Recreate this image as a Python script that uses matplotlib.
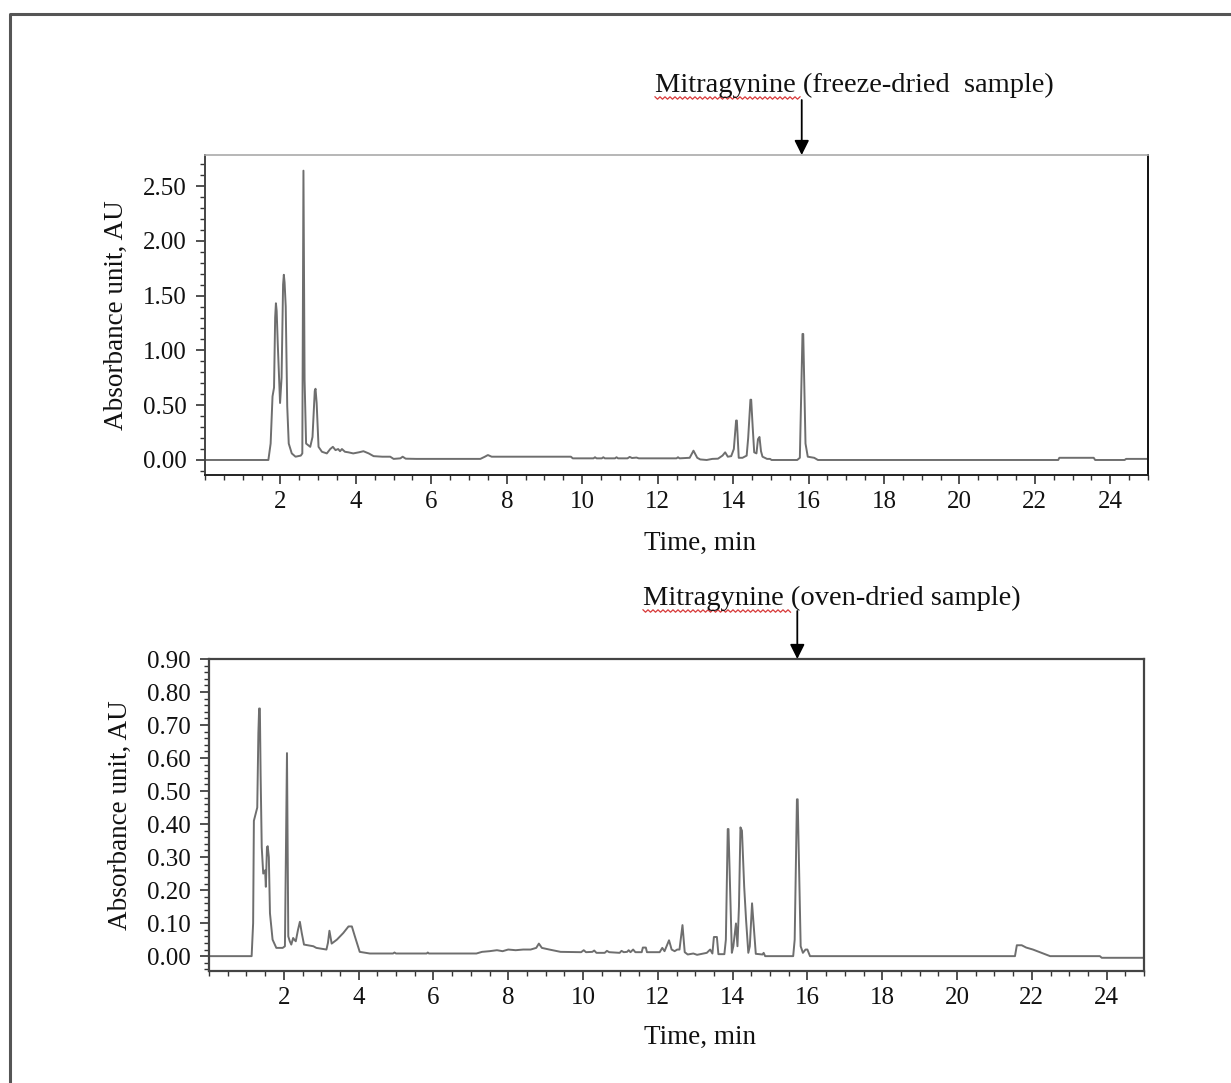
import numpy as np
import matplotlib
matplotlib.use("Agg")
import matplotlib.pyplot as plt
from matplotlib.ticker import MultipleLocator, FormatStrFormatter
from matplotlib.lines import Line2D

plt.rcParams['font.family'] = ['Liberation Serif', 'DejaVu Serif']

# ---------------- data ----------------
freeze_t = [0.0, 1.68, 1.74, 1.79, 1.83, 1.86, 1.88, 1.90, 1.93, 1.99, 2.03, 2.07, 2.09, 2.11,
            2.14, 2.18, 2.22, 2.30,
            2.40, 2.54, 2.58, 2.61, 2.64, 2.68, 2.79, 2.85, 2.91, 2.93, 2.96, 3.01, 3.10, 3.23, 3.32,
            3.39, 3.46, 3.53, 3.58, 3.63, 3.71, 3.80, 3.93, 4.08, 4.20, 4.34, 4.47, 4.70, 4.91,
            5.00, 5.18, 5.24, 5.32, 5.60, 7.30, 7.42, 7.50, 7.60, 9.70, 9.75, 10.30, 10.34, 10.38,
            10.52, 10.56, 10.60, 10.87, 10.91, 10.95, 11.20, 11.26, 11.32, 11.44, 11.50, 12.50,
            12.54, 12.58, 12.85, 12.95, 13.05, 13.13, 13.30, 13.45, 13.60, 13.72, 13.79, 13.86,
            13.95, 14.02, 14.08, 14.10, 14.15, 14.25, 14.36, 14.40, 14.46, 14.48, 14.52, 14.56,
            14.62, 14.66, 14.70, 14.74, 14.78, 14.90, 14.98, 15.02, 15.70, 15.77, 15.84, 15.86,
            15.92, 15.98, 16.15, 16.25, 22.62, 22.65, 23.56, 23.60, 24.38, 24.42, 25.0]
freeze_au = [0.0, 0.0, 0.15, 0.58, 0.66, 1.30, 1.43, 1.36, 1.05, 0.52, 0.75, 1.60, 1.69, 1.62,
             1.40, 0.49, 0.15, 0.06,
             0.03, 0.04, 0.06, 2.64, 0.73, 0.15, 0.12, 0.21, 0.63, 0.65, 0.52, 0.12, 0.075, 0.06, 0.10,
             0.12, 0.09, 0.10, 0.08, 0.10, 0.075, 0.07, 0.06, 0.07, 0.08, 0.06, 0.035, 0.03, 0.03,
             0.01, 0.015, 0.03, 0.012, 0.01, 0.01, 0.03, 0.045, 0.03, 0.03, 0.015, 0.015, 0.025, 0.015,
             0.015, 0.025, 0.015, 0.015, 0.025, 0.015, 0.015, 0.028, 0.018, 0.022, 0.015, 0.015,
             0.025, 0.015, 0.02, 0.085, 0.02, 0.005, 0.0, 0.01, 0.012, 0.04, 0.07, 0.03,
             0.035, 0.10, 0.36, 0.36, 0.02, 0.02, 0.04, 0.20, 0.55, 0.55, 0.30, 0.07,
             0.06, 0.19, 0.21, 0.08, 0.03, 0.01, 0.01, 0.0, 0.0, 0.02, 1.15, 1.15,
             0.15, 0.03, 0.02, 0.0, 0.0, 0.02, 0.02, 0.0, 0.0, 0.01, 0.01]

oven_t = [0.0, 1.14, 1.18, 1.20, 1.29, 1.32, 1.34, 1.36, 1.38, 1.41, 1.45, 1.50, 1.52, 1.55, 1.57,
          1.60, 1.63, 1.70, 1.80, 1.97, 2.03, 2.085, 2.12, 2.16, 2.20, 2.25, 2.28, 2.32, 2.38,
          2.43, 2.48, 2.54, 2.79, 2.87, 3.14, 3.18, 3.22, 3.28, 3.42, 3.59, 3.73, 3.82, 3.90,
          4.03, 4.30, 4.92, 4.96, 5.00, 5.82, 5.85, 5.88, 7.15, 7.30, 7.50, 7.70, 7.85, 8.00,
          8.20, 8.40, 8.60, 8.75, 8.82, 8.90, 9.10, 9.40, 9.95, 10.02, 10.08, 10.25, 10.30,
          10.36, 10.58, 10.64, 10.70, 10.98, 11.03, 11.09, 11.18, 11.22, 11.27, 11.34, 11.40,
          11.57, 11.60, 11.68, 11.71, 12.05, 12.12, 12.18, 12.30, 12.37, 12.45, 12.52, 12.58,
          12.66, 12.72, 12.80, 12.95, 13.05, 13.31, 13.40, 13.46, 13.50, 13.58, 13.62, 13.78,
          13.82, 13.87, 13.89, 13.93, 13.98, 14.02, 14.09, 14.13, 14.17, 14.21, 14.25, 14.31, 14.36,
          14.42, 14.46, 14.52, 14.58, 14.62, 14.80, 14.83, 14.87, 15.62, 15.66, 15.72, 15.74, 15.82,
          15.88, 15.95, 16.00, 16.07, 21.55, 21.60, 21.73, 21.85, 22.03, 22.31, 22.49, 23.82,
          23.87, 25.0]
oven_au = [0.0, 0.0, 0.10, 0.41, 0.45, 0.675, 0.75, 0.75, 0.55, 0.33, 0.25, 0.26, 0.21, 0.33, 0.333,
           0.30, 0.13, 0.05, 0.025, 0.025, 0.03, 0.615, 0.06, 0.045, 0.035, 0.055, 0.05, 0.045, 0.08,
           0.104, 0.07, 0.035, 0.03, 0.025, 0.02, 0.04, 0.077, 0.038, 0.05, 0.07, 0.09, 0.09, 0.06,
           0.013, 0.008, 0.008, 0.011, 0.008, 0.008, 0.011, 0.008, 0.008, 0.013, 0.015, 0.018, 0.015, 0.02,
           0.018, 0.02, 0.02, 0.025, 0.038, 0.025, 0.02, 0.013, 0.012, 0.018, 0.012, 0.013, 0.017,
           0.01, 0.01, 0.016, 0.012, 0.01, 0.016, 0.012, 0.013, 0.018, 0.012, 0.02, 0.012,
           0.012, 0.026, 0.026, 0.012, 0.012, 0.025, 0.015, 0.048, 0.02, 0.015, 0.02, 0.02,
           0.094, 0.012, 0.005, 0.008, 0.004, 0.01, 0.02, 0.008, 0.058, 0.058, 0.006, 0.006,
           0.05, 0.385, 0.385, 0.22, 0.01, 0.03, 0.099, 0.03, 0.15, 0.39, 0.38, 0.21, 0.11,
           0.01, 0.03, 0.16, 0.07, 0.007, 0.005, 0.01, 0.0, 0.0, 0.05, 0.475, 0.475, 0.03,
           0.01, 0.02, 0.02, 0.0, 0.0, 0.033, 0.033, 0.026, 0.02, 0.008, 0.0, 0.0,
           -0.005, -0.005]

mitragynine_rt = [15.82, 15.73]
titles = ["Mitragynine (freeze-dried  sample)", "Mitragynine (oven-dried sample)"]
x_ticks = [2, 4, 6, 8, 10, 12, 14, 16, 18, 20, 22, 24]

# ---------------- figure ----------------
W, H = 1231, 1083
fig = plt.figure(figsize=(W / 100, H / 100), dpi=100)

def fx(px):
    return px / W

def fy(py):
    return 1 - py / H

# outer frame (left and top edges)
fig.add_artist(Line2D([fx(10), fx(10), 1.0], [0.0, fy(14), fy(14)],
                      transform=fig.transFigure, color='#555555', lw=2.2))

ax1 = fig.add_axes([fx(205), fy(475), fx(1148) - fx(205), fy(155) - fy(475)])
ax2 = fig.add_axes([fx(209), fy(971), fx(1144) - fx(209), fy(659) - fy(971)])

line_color = '#6e6e6e'
ax1.plot(freeze_t, freeze_au, color=line_color, lw=1.4)
ax2.plot(oven_t, oven_au, color=line_color, lw=1.4)

ax1.set_xlim(0, 25)
ax1.set_ylim(-0.137, 2.783)
ax2.set_xlim(0, 25)
ax2.set_ylim(-0.045, 0.90)

for ax, ymaj, ymin in [(ax1, 0.5, 0.1), (ax2, 0.1, 0.02)]:
    ax.set_xticks(x_ticks)
    ax.xaxis.set_minor_locator(MultipleLocator(0.5))
    ax.yaxis.set_major_locator(MultipleLocator(ymaj))
    ax.yaxis.set_minor_locator(MultipleLocator(ymin))
    ax.yaxis.set_major_formatter(FormatStrFormatter('%.2f'))
    ax.tick_params(axis='both', which='major', direction='out', length=6.5, width=1.2,
                   color='#333333', labelsize=18, labelcolor='#111111')
    ax.tick_params(axis='both', which='minor', direction='out', length=3.5, width=1.0,
                   color='#333333')
    ax.tick_params(axis='x', which='major', pad=5)
    ax.tick_params(axis='y', which='major', pad=7)
    ax.set_xlabel('Time, min', fontsize=19.5, color='#111111')
    ax.set_ylabel('Absorbance unit, AU', fontsize=19.5, color='#111111', labelpad=10)

ax1.xaxis.set_label_coords(0.525, -0.175)
ax2.xaxis.set_label_coords(0.525, -0.172)

# spines
ax1.spines['left'].set_color('#444444')
ax1.spines['bottom'].set_color('#222222')
ax1.spines['top'].set_color('#aaaaaa')
ax1.spines['right'].set_color('#111111')
for s in ax1.spines.values():
    s.set_linewidth(1.4)
ax1.spines['top'].set_linewidth(1.2)
for s in ax2.spines.values():
    s.set_color('#444444')
    s.set_linewidth(1.6)

# annotations: label text + arrow to mitragynine peak
text_px = [(655, 85), (643, 598)]
squiggle = [(655, 800, 98), (643, 790, 611)]
arrow_start_px = [100, 611]
axes_top_px = [155, 659]
axes_h_px = [320, 312]
for ax, rt, title, (tx, ty), (sx0, sx1, sy), a0, top, hh in zip(
        [ax1, ax2], mitragynine_rt, titles, text_px, squiggle, arrow_start_px,
        axes_top_px, axes_h_px):
    fig.text(fx(tx), fy(ty), title, fontsize=20.5, ha='left', va='center', color='#111111')
    # red spell-check squiggle under "Mitragynine"
    xs = np.arange(sx0, sx1 + 1, 2.5)
    ys = sy + np.where(np.arange(len(xs)) % 2 == 0, -1.2, 1.2)
    fig.add_artist(Line2D(fx(xs), fy(ys), transform=fig.transFigure,
                          color='#d83a3a', lw=0.9))
    ax.annotate('', xy=(rt, 1.0), xycoords=('data', 'axes fraction'),
                xytext=(rt, 1.0 + (top - a0) / hh), textcoords=('data', 'axes fraction'),
                arrowprops=dict(arrowstyle='-|>', color='black', lw=1.3,
                                mutation_scale=22, shrinkA=0, shrinkB=0),
                annotation_clip=False)

fig.savefig('out.png', dpi=100, facecolor='white')
